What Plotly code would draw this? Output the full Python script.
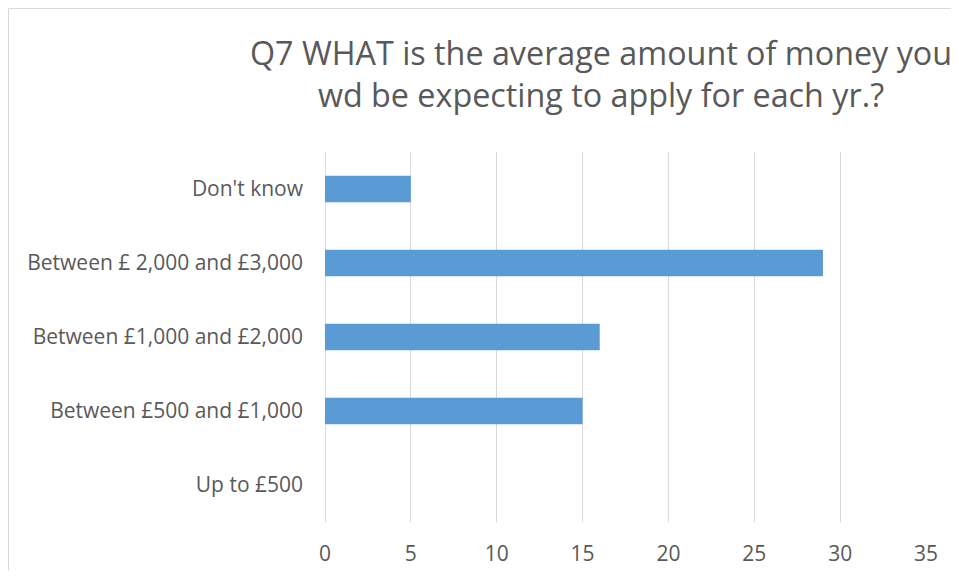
import plotly.graph_objects as go

# survey answers, bottom to top as drawn
categories = ['Up to £500', 'Between £500 and £1,000', 'Between £1,000 and £2,000',
              'Between £ 2,000 and £3,000', "Don't know"]
counts = [0, 15, 16, 29, 5]
x_ticks = [0, 5, 10, 15, 20, 25, 30, 35]

title_text = 'Q7 WHAT is the average amount of money you<br>wd be expecting to apply for each yr.?'

# the page body adds an 8px margin, so the figure is sized to fit inside it
W, H = 943, 563
left, right, top, bottom = 317, 25, 144, 49
pw = W - left - right
ph = H - top - bottom

font_name = 'Open Sans'
txt_col = '#595959'
frame_col = '#d9d9d9'

fig = go.Figure()

fig.add_trace(
    go.Bar(
        x=counts,
        y=categories,
        orientation='h',
        marker=dict(color='#5B9BD5', line=dict(width=0)),
        hoverinfo='x+y'
    )
)

fig.update_layout(
    width=W, height=H,
    margin=dict(l=left, r=right, t=top, b=bottom, autoexpand=False),
    paper_bgcolor='white', plot_bgcolor='white',
    bargap=0.64,
    showlegend=False,
    font=dict(family=font_name, color=txt_col, size=21),
    title=dict(text=title_text, xref='paper', x=(593 - left) / pw, xanchor='center',
               yref='container', y=1 - 57 / H, yanchor='middle',
               font=dict(size=32.3, color=txt_col, family=font_name))
)

fig.update_xaxes(
    range=[0, 35], tickvals=x_ticks, showgrid=True, gridcolor=frame_col, gridwidth=1,
    zeroline=True, zerolinecolor=frame_col, zerolinewidth=1,
    showline=False, ticks='', ticklabelstandoff=17, fixedrange=True,
    tickfont=dict(size=21)
)
fig.update_yaxes(
    showgrid=False, zeroline=False, showline=False, ticks='',
    ticklabelstandoff=21, fixedrange=True
)

# chart frame: only its left and top edges fall inside the picture
fx0 = (0.5 - left) / pw
fy1 = (H - 0.5 - bottom) / ph
fig.add_shape(type='line', xref='paper', yref='paper',
              x0=fx0, x1=fx0, y0=-bottom / ph, y1=fy1,
              line=dict(color=frame_col, width=1), layer='below')
fig.add_shape(type='line', xref='paper', yref='paper',
              x0=fx0, x1=(W - left) / pw, y0=fy1, y1=fy1,
              line=dict(color=frame_col, width=1), layer='below')

fig.write_html('out.html')
